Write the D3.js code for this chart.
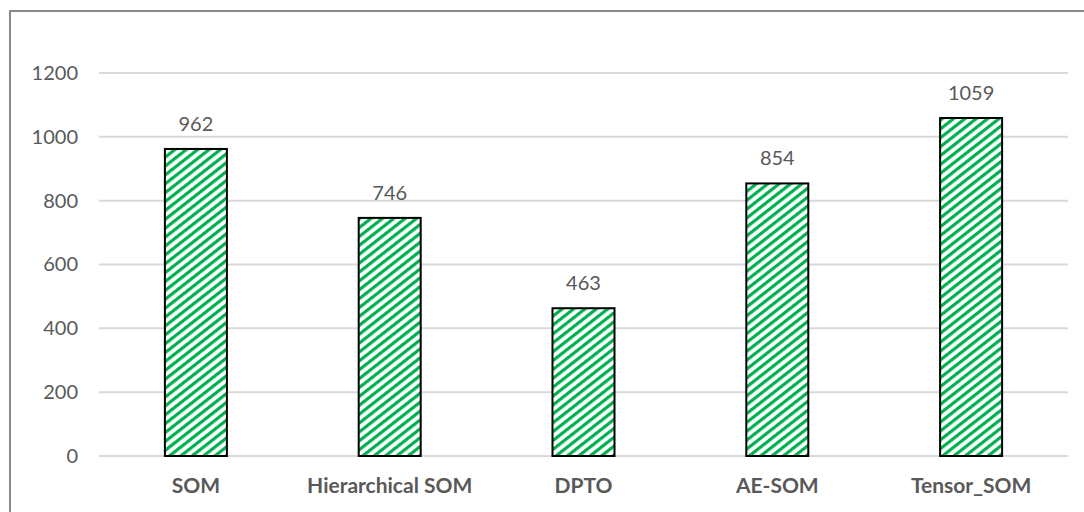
<!DOCTYPE html>
<html>
<head>
<meta charset="utf-8">
<script src="https://cdn.jsdelivr.net/npm/d3@7"></script>
<style>
  body { margin: 0; background: #fff; }
  svg { display: block; }
</style>
</head>
<body>
<svg id="chart" width="1084" height="512"></svg>
<script>
// categories and values
var categories = ["SOM", "Hierarchical SOM", "DPTO", "AE-SOM", "Tensor_SOM"];
var values = [962, 746, 463, 854, 1059];
var yTicks = [0, 200, 400, 600, 800, 1000, 1200];

var svg = d3.select("#chart");
var margin = {left: 99, right: 16, top: 73, bottom: 56};
var width = 1084, height = 512;
var font = "Lato, 'Open Sans', sans-serif";

// outer frame (only top and left visible in the picture)
svg.append("rect")
  .attr("x", 10).attr("y", 11)
  .attr("width", 1100).attr("height", 600)
  .attr("fill", "none")
  .attr("stroke", "#898989")
  .attr("stroke-width", 2);

// striped fill: horizontal stripes rotated to go up-right
var defs = svg.append("defs");
var pat = defs.append("pattern")
  .attr("id", "stripes")
  .attr("patternUnits", "userSpaceOnUse")
  .attr("width", 10).attr("height", 7)
  .attr("patternTransform", "rotate(-38)");
pat.append("rect").attr("width", 10).attr("height", 7).attr("fill", "#fff");
pat.append("rect").attr("width", 10).attr("height", 3.2).attr("fill", "#00b050");

var x = d3.scaleBand()
  .domain(categories)
  .range([margin.left, width - margin.right])
  .paddingInner(0.68)
  .paddingOuter(0.34);

var y = d3.scaleLinear()
  .domain([0, 1200])
  .range([height - margin.bottom, margin.top]);

// gridlines
svg.append("g")
  .selectAll("line")
  .data(yTicks)
  .join("line")
  .attr("x1", margin.left)
  .attr("x2", width - margin.right)
  .attr("y1", function(d){ return y(d); })
  .attr("y2", function(d){ return y(d); })
  .attr("stroke", "#d9d9d9")
  .attr("stroke-width", 2);

// y axis labels
var yAxis = svg.append("g")
  .attr("transform", "translate(" + (margin.left - 21) + ",0)")
  .call(d3.axisLeft(y).tickValues(yTicks).tickFormat(d3.format("d")).tickSize(0).tickPadding(0));
yAxis.select(".domain").remove();
yAxis.selectAll("text")
  .attr("fill", "#595959")
  .style("font-family", font)
  .style("font-size", "20px");

// bars
svg.append("g")
  .selectAll("rect")
  .data(values)
  .join("rect")
  .attr("x", function(d, i){ return x(categories[i]); })
  .attr("y", function(d){ return y(d); })
  .attr("width", x.bandwidth())
  .attr("height", function(d){ return y(0) - y(d); })
  .attr("fill", "url(#stripes)")
  .attr("stroke", "#000")
  .attr("stroke-width", 2);

// value labels
svg.append("g")
  .selectAll("text")
  .data(values)
  .join("text")
  .attr("x", function(d, i){ return x(categories[i]) + x.bandwidth() / 2; })
  .attr("y", function(d){ return y(d) - 18; })
  .attr("text-anchor", "middle")
  .attr("fill", "#595959")
  .style("font-family", font)
  .style("font-size", "20px")
  .text(function(d){ return d; });

// category labels
var xAxis = svg.append("g")
  .attr("transform", "translate(0," + (height - margin.bottom) + ")")
  .call(d3.axisBottom(x).tickSize(0).tickPadding(22));
xAxis.select(".domain").remove();
xAxis.selectAll("text")
  .attr("fill", "#595959")
  .style("font-family", font)
  .style("font-size", "21px")
  .style("font-weight", "bold");
</script>
</body>
</html>
